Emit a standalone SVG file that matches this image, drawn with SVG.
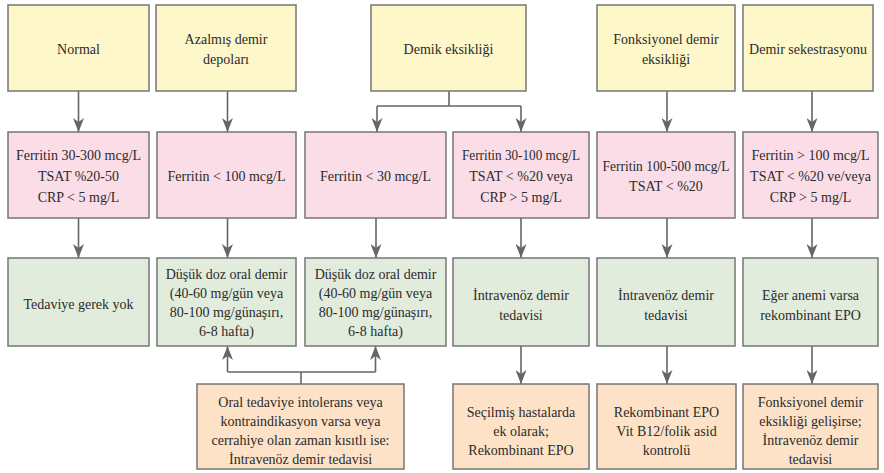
<svg xmlns="http://www.w3.org/2000/svg" width="884" height="473" viewBox="0 0 884 473">
<defs>
<style>
.b{stroke:#767676;stroke-width:1.5}
.y{fill:#fdf7c9}.p{fill:#fadde7}.g{fill:#e2ecdc}.o{fill:#fde2c7}
.t text{font-family:"Liberation Serif","Times New Roman",serif;font-size:14px;fill:#2b2b2b;text-anchor:middle;dominant-baseline:central}
.c line,.c path{stroke:#666;stroke-width:1.6;fill:none}
</style>
<marker id="ah" markerUnits="userSpaceOnUse" markerWidth="14" markerHeight="11" refX="14" refY="5.5" orient="auto" viewBox="0 0 14 11">
<path d="M0,0 L14,5.5 L0,11 L4,5.5 z" fill="#666"/>
</marker>
</defs>
<rect width="884" height="473" fill="#fff"/>
<g class="c">
<line x1="78.5" y1="91" x2="78.5" y2="132" marker-end="url(#ah)"/>
<line x1="227.5" y1="91" x2="227.5" y2="132" marker-end="url(#ah)"/>
<path d="M449,91 V106 M377,106 H521"/>
<line x1="377" y1="106" x2="377" y2="132" marker-end="url(#ah)"/>
<line x1="521" y1="106" x2="521" y2="132" marker-end="url(#ah)"/>
<line x1="667" y1="91" x2="667" y2="132" marker-end="url(#ah)"/>
<line x1="812" y1="91" x2="812" y2="132" marker-end="url(#ah)"/>
<line x1="78.5" y1="218" x2="78.5" y2="258" marker-end="url(#ah)"/>
<line x1="227.5" y1="218" x2="227.5" y2="258" marker-end="url(#ah)"/>
<line x1="376" y1="218" x2="376" y2="258" marker-end="url(#ah)"/>
<line x1="521" y1="218" x2="521" y2="258" marker-end="url(#ah)"/>
<line x1="667" y1="218" x2="667" y2="258" marker-end="url(#ah)"/>
<line x1="812" y1="218" x2="812" y2="258" marker-end="url(#ah)"/>
<line x1="521" y1="346" x2="521" y2="384" marker-end="url(#ah)"/>
<line x1="667" y1="346" x2="667" y2="384" marker-end="url(#ah)"/>
<line x1="812" y1="346" x2="812" y2="384" marker-end="url(#ah)"/>
<path d="M301,384 V372 M227.5,372 H375.5"/>
<line x1="227.5" y1="372" x2="227.5" y2="346" marker-end="url(#ah)"/>
<line x1="375.5" y1="372" x2="375.5" y2="346" marker-end="url(#ah)"/>
</g>
<g class="t">
<g id="normal"><rect class="b y" x="8" y="5" width="141" height="86"/><text x="78.5" y="49">Normal</text></g>
<g id="azalmis"><rect class="b y" x="156" y="5" width="140" height="86"/><text x="226" y="39">Azalmış demir</text><text x="226" y="59">depoları</text></g>
<g id="demik"><rect class="b y" x="371" y="5" width="155" height="86"/><text x="448.5" y="49">Demik eksikliği</text></g>
<g id="fonksiyonel"><rect class="b y" x="597" y="5" width="138" height="86"/><text x="666" y="39">Fonksiyonel demir</text><text x="666" y="59">eksikliği</text></g>
<g id="sekestrasyon"><rect class="b y" x="743" y="5" width="130" height="86"/><text x="808" y="49">Demir sekestrasyonu</text></g>

<g id="p1"><rect class="b p" x="8" y="132" width="141" height="86"/><text x="78.5" y="155">Ferritin 30-300 mcg/L</text><text x="78.5" y="176">TSAT %20-50</text><text x="78.5" y="197">CRP &lt; 5 mg/L</text></g>
<g id="p2"><rect class="b p" x="157" y="132" width="139" height="86"/><text x="226.5" y="176">Ferritin &lt; 100 mcg/L</text></g>
<g id="p3"><rect class="b p" x="305" y="132" width="141" height="86"/><text x="375.5" y="176">Ferritin &lt; 30 mcg/L</text></g>
<g id="p4"><rect class="b p" x="453" y="132" width="136" height="86"/><text x="521" y="155" textLength="118" lengthAdjust="spacingAndGlyphs">Ferritin 30-100 mcg/L</text><text x="521" y="176">TSAT &lt; %20 veya</text><text x="521" y="197">CRP &gt; 5 mg/L</text></g>
<g id="p5"><rect class="b p" x="597" y="132" width="138" height="86"/><text x="666" y="166" textLength="127" lengthAdjust="spacingAndGlyphs">Ferritin 100-500 mcg/L</text><text x="666" y="186">TSAT &lt; %20</text></g>
<g id="p6"><rect class="b p" x="743" y="132" width="135" height="86"/><text x="810.5" y="155">Ferritin &gt; 100 mcg/L</text><text x="810.5" y="176">TSAT &lt; %20 ve/veya</text><text x="810.5" y="197">CRP &gt; 5 mg/L</text></g>

<g id="g1"><rect class="b g" x="8" y="258" width="141" height="88"/><text x="78.5" y="304">Tedaviye gerek yok</text></g>
<g id="g2"><rect class="b g" x="157" y="258" width="139" height="88"/><text x="226.5" y="274">Düşük doz oral demir</text><text x="226.5" y="293">(40-60 mg/gün veya</text><text x="226.5" y="312">80-100 mg/günaşırı,</text><text x="226.5" y="331">6-8 hafta)</text></g>
<g id="g3"><rect class="b g" x="305" y="258" width="141" height="88"/><text x="375.5" y="274">Düşük doz oral demir</text><text x="375.5" y="293">(40-60 mg/gün veya</text><text x="375.5" y="312">80-100 mg/günaşırı,</text><text x="375.5" y="331">6-8 hafta)</text></g>
<g id="g4"><rect class="b g" x="453" y="258" width="136" height="88"/><text x="521" y="295">İntravenöz demir</text><text x="521" y="315">tedavisi</text></g>
<g id="g5"><rect class="b g" x="597" y="258" width="138" height="88"/><text x="666" y="295">İntravenöz demir</text><text x="666" y="315">tedavisi</text></g>
<g id="g6"><rect class="b g" x="743" y="258" width="135" height="88"/><text x="810.5" y="295">Eğer anemi varsa</text><text x="810.5" y="315">rekombinant EPO</text></g>

<g id="o1"><rect class="b o" x="197" y="384" width="207" height="85"/><text x="300.5" y="402">Oral tedaviye intolerans veya</text><text x="300.5" y="421">kontraindikasyon varsa veya</text><text x="300.5" y="440">cerrahiye olan zaman kısıtlı ise:</text><text x="300.5" y="459">İntravenöz demir tedavisi</text></g>
<g id="o2"><rect class="b o" x="453" y="384" width="136" height="85"/><text x="521" y="412">Seçilmiş hastalarda</text><text x="521" y="431">ek olarak;</text><text x="521" y="450">Rekombinant EPO</text></g>
<g id="o3"><rect class="b o" x="597" y="384" width="139" height="85"/><text x="666.5" y="412">Rekombinant EPO</text><text x="666.5" y="431">Vit B12/folik asid</text><text x="666.5" y="450">kontrolü</text></g>
<g id="o4"><rect class="b o" x="743" y="384" width="135" height="85"/><text x="810.5" y="402">Fonksiyonel demir</text><text x="810.5" y="421">eksikliği gelişirse;</text><text x="810.5" y="440">İntravenöz demir</text><text x="810.5" y="459">tedavisi</text></g>
</g>
</svg>
